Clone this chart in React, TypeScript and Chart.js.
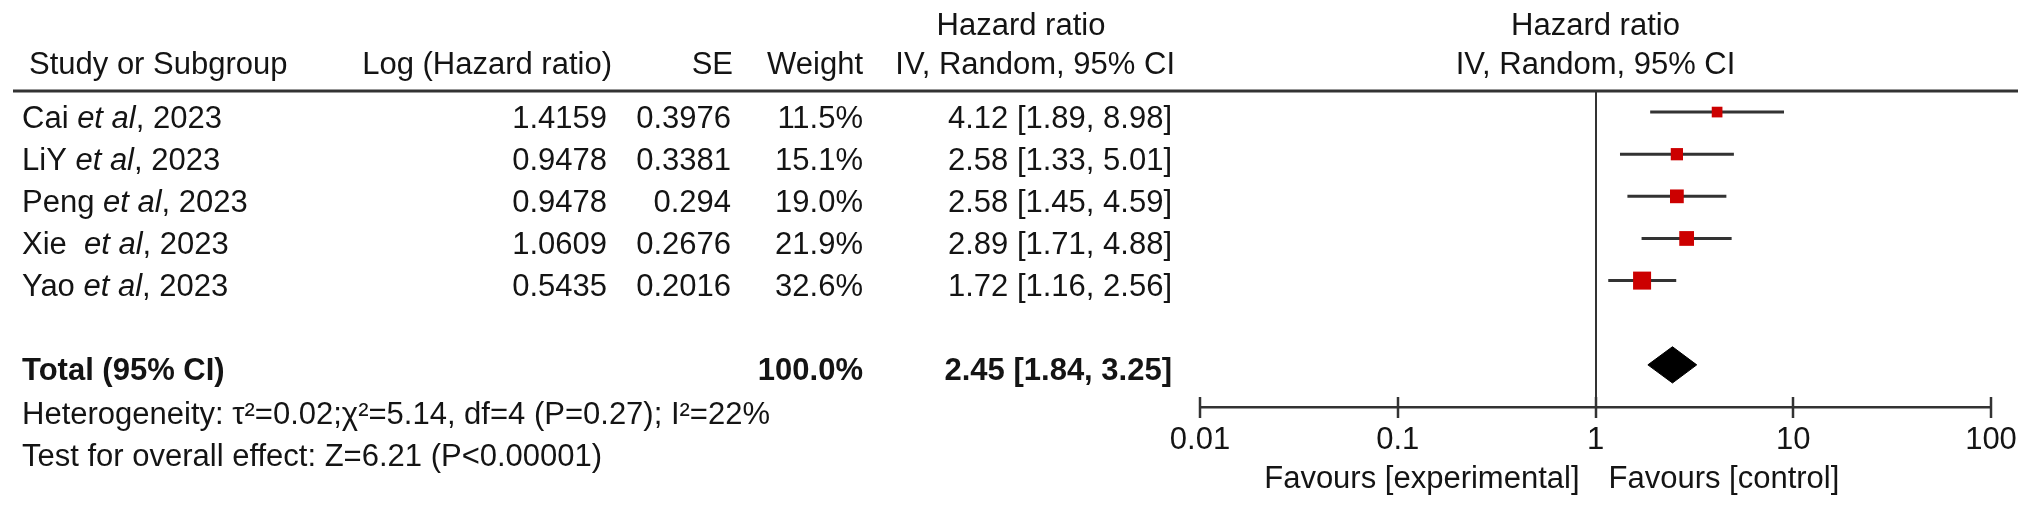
import { useEffect, useRef } from 'react';
import { Chart, registerables } from 'chart.js';

Chart.register(...registerables);

// ---------- data ----------
const studyAuthors = ['Cai', 'LiY', 'Peng', 'Xie ', 'Yao'];
const studyYear = '2023';
const logHazard = ['1.4159', '0.9478', '0.9478', '1.0609', '0.5435'];
const seValues = ['0.3976', '0.3381', '0.294', '0.2676', '0.2016'];
const weights = [11.5, 15.1, 19.0, 21.9, 32.6];
const hazardRatio = [4.12, 2.58, 2.58, 2.89, 1.72];
const ciLow = [1.89, 1.33, 1.45, 1.71, 1.16];
const ciHigh = [8.98, 5.01, 4.59, 4.88, 2.56];
const studyRows = [0, 1, 2, 3, 4];

const totalLabel = 'Total (95% CI)';
const totalWeight = '100.0%';
const totalHR = 2.45;
const totalLow = 1.84;
const totalHigh = 3.25;
const totalRow = 6;

const xTickValues = [0.01, 0.1, 1, 10, 100];
const heterogeneityText = 'Heterogeneity: \u03C4\u00B2=0.02;\u03C7\u00B2=5.14, df=4 (P=0.27); I\u00B2=22%';
const overallEffectText = 'Test for overall effect: Z=6.21 (P<0.00001)';
const favoursLeft = 'Favours [experimental]';
const favoursRight = 'Favours [control]';

// ---------- style ----------
const FF = '"Liberation Sans", Arial, sans-serif';
const FS = 31;
const TEXT = '#141414';
const LINE = '#333333';
const RED = '#CC0000';

const fmt2 = (v: number) => v.toFixed(2);

const forestPlugin = {
  id: 'forestTable',
  beforeDatasetsDraw(chart: any) {
    const { ctx, chartArea, scales } = chart;
    const x = scales.x;
    ctx.save();
    const p1 = Math.round(x.getPixelForValue(1));
    ctx.strokeStyle = LINE;
    ctx.lineWidth = 2;
    ctx.beginPath();
    ctx.moveTo(p1, chartArea.top);
    ctx.lineTo(p1, chartArea.bottom);
    ctx.stroke();
    ctx.restore();
  },
  afterDraw(chart: any) {
    const { ctx, chartArea, scales } = chart;
    const x = scales.x;
    const y = scales.y;
    const p1 = x.getPixelForValue(1);
    const textOff = 7;
    ctx.save();
    ctx.fillStyle = TEXT;
    ctx.textBaseline = 'middle';
    const normal = `${FS}px ${FF}`;
    const bold = `bold ${FS}px ${FF}`;
    const italic = `italic ${FS}px ${FF}`;

    // header rule
    ctx.strokeStyle = LINE;
    ctx.lineWidth = 3;
    ctx.beginPath();
    ctx.moveTo(13, chartArea.top);
    ctx.lineTo(2018, chartArea.top);
    ctx.stroke();

    // headers
    const h1 = 26;
    const h2 = 65;
    ctx.font = normal;
    ctx.textAlign = 'left';
    ctx.fillText('Study or Subgroup', 29, h2);
    ctx.textAlign = 'right';
    ctx.fillText('Log (Hazard ratio)', 612, h2);
    ctx.fillText('SE', 733, h2);
    ctx.fillText('Weight', 863, h2);
    ctx.fillText('IV, Random, 95% CI', 1175, h2);
    ctx.textAlign = 'center';
    ctx.fillText('Hazard ratio', 1021, h1);
    ctx.fillText('Hazard ratio', p1, h1);
    ctx.fillText('IV, Random, 95% CI', p1, h2);

    // study rows
    studyRows.forEach((r, i) => {
      const py = y.getPixelForValue(r) + textOff;
      ctx.textAlign = 'left';
      let px = 22;
      ctx.font = normal;
      const a = studyAuthors[i] + ' ';
      ctx.fillText(a, px, py);
      px += ctx.measureText(a).width;
      ctx.font = italic;
      ctx.fillText('et al', px, py);
      px += ctx.measureText('et al').width;
      ctx.font = normal;
      ctx.fillText(', ' + studyYear, px, py);
      ctx.textAlign = 'right';
      ctx.fillText(logHazard[i], 607, py);
      ctx.fillText(seValues[i], 731, py);
      ctx.fillText(weights[i].toFixed(1) + '%', 863, py);
      ctx.fillText(`${fmt2(hazardRatio[i])} [${fmt2(ciLow[i])}, ${fmt2(ciHigh[i])}]`, 1172, py);
    });

    // total row
    const ty = y.getPixelForValue(totalRow) + textOff;
    ctx.font = bold;
    ctx.textAlign = 'left';
    ctx.fillText(totalLabel, 22, ty);
    ctx.textAlign = 'right';
    ctx.fillText(totalWeight, 863, ty);
    ctx.fillText(`${fmt2(totalHR)} [${fmt2(totalLow)}, ${fmt2(totalHigh)}]`, 1172, ty);

    // footnotes
    ctx.font = normal;
    ctx.textAlign = 'left';
    ctx.fillText(heterogeneityText, 22, ty + 44);
    ctx.fillText(overallEffectText, 22, ty + 86);

    // tick marks crossing the axis
    ctx.strokeStyle = LINE;
    ctx.lineWidth = 2.5;
    xTickValues.forEach((v) => {
      const px = Math.round(x.getPixelForValue(v));
      ctx.beginPath();
      ctx.moveTo(px, chartArea.bottom - 10);
      ctx.lineTo(px, chartArea.bottom + 11);
      ctx.stroke();
    });

    // favours labels
    ctx.font = normal;
    ctx.fillStyle = TEXT;
    ctx.textAlign = 'right';
    ctx.fillText(favoursLeft, p1 - 16, 479);
    ctx.textAlign = 'left';
    ctx.fillText(favoursRight, p1 + 13, 479);
    ctx.restore();
  },
};

export default function App() {
  const ref = useRef<HTMLCanvasElement | null>(null);

  useEffect(() => {
    document.body.style.margin = '0';
    const canvas = ref.current;
    if (!canvas) return;

    const ciDatasets = studyRows.map((r, i) => ({
      type: 'scatter' as const,
      data: [
        { x: ciLow[i], y: r },
        { x: ciHigh[i], y: r },
      ],
      showLine: true,
      borderColor: LINE,
      borderWidth: 3,
      pointRadius: 0,
      order: 2,
    }));

    const squares = {
      type: 'scatter' as const,
      data: studyRows.map((r, i) => ({ x: hazardRatio[i], y: r })),
      pointStyle: 'rect',
      pointRadius: studyRows.map((_, i) => 2.23 * Math.sqrt(weights[i])),
      pointHoverRadius: studyRows.map((_, i) => 2.23 * Math.sqrt(weights[i])),
      backgroundColor: RED,
      borderWidth: 0,
      order: 0,
    };

    const dh = 0.43;
    const diamond = {
      type: 'scatter' as const,
      data: [
        { x: totalLow, y: totalRow },
        { x: totalHR, y: totalRow - dh },
        { x: totalHigh, y: totalRow },
        { x: totalHR, y: totalRow + dh },
        { x: totalLow, y: totalRow },
      ],
      showLine: true,
      fill: 'shape',
      backgroundColor: '#000000',
      borderColor: '#000000',
      borderWidth: 1,
      pointRadius: 0,
      tension: 0,
      order: 0,
    };

    const chart = new Chart(canvas, {
      type: 'scatter',
      data: { datasets: [squares, diamond, ...ciDatasets] as any },
      options: {
        animation: false,
        responsive: false,
        events: [],
        layout: { padding: { left: 1200, right: 41, top: 91, bottom: 0 } },
        plugins: { legend: { display: false }, tooltip: { enabled: false } },
        scales: {
          x: {
            type: 'logarithmic',
            min: 0.01,
            max: 100,
            position: 'bottom',
            afterBuildTicks: (scale: any) => {
              scale.ticks = xTickValues.map((v) => ({ value: v }));
            },
            afterFit: (scale: any) => {
              scale.height = 104;
            },
            grid: { display: true, drawOnChartArea: false, drawTicks: false },
            border: { display: true, color: LINE, width: 2.5 },
            ticks: {
              autoSkip: false,
              maxRotation: 0,
              padding: 15,
              color: TEXT,
              font: { family: FF, size: FS },
              callback: (v: any) => String(v),
            },
          },
          y: {
            type: 'linear',
            min: -0.5,
            max: 7,
            reverse: true,
            display: false,
          },
        },
      } as any,
      plugins: [forestPlugin],
    });

    return () => chart.destroy();
  }, []);

  return (
    <div style={{ position: 'absolute', left: 0, top: 0, width: 2032, height: 511, background: '#fff' }}>
      <canvas ref={ref} width={2032} height={511} style={{ display: 'block' }} />
    </div>
  );
}
